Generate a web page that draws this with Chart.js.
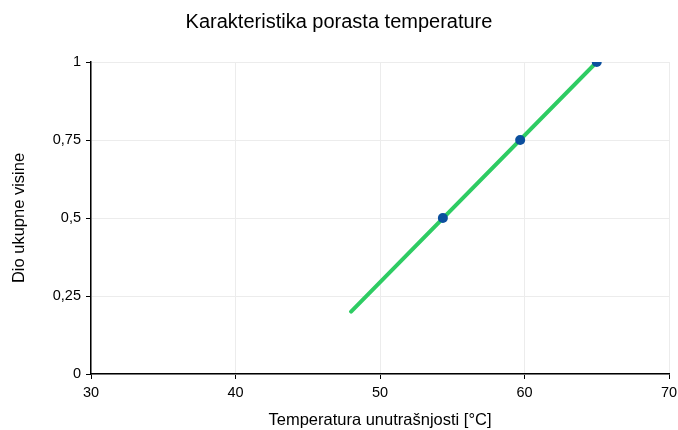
<!DOCTYPE html>
<html>
<head>
<meta charset="utf-8">
<script src="https://cdn.jsdelivr.net/npm/chart.js@4/dist/chart.umd.min.js"></script>
<style>
html,body{margin:0;padding:0;background:#fff;}
#wrap{width:678px;height:430px;}
</style>
</head>
<body>
<div id="wrap"><canvas id="c" width="678" height="430"></canvas></div>
<script>
const chartTitle = "Karakteristika porasta temperature";
const xTitle = "Temperatura unutrašnjosti [°C]";
const yTitle = "Dio ukupne visine";
const lineX = [48, 65];
const lineY = [0.2, 1];
const pointX = [54.35, 59.7, 65];
const pointY = [0.5, 0.75, 1];
const xMin = 30, xMax = 70, xStep = 10;
const yMin = 0, yMax = 1, yStep = 0.25;

const FONT = "'Liberation Sans', Arial, sans-serif";

new Chart(document.getElementById('c'), {
  type: 'scatter',
  data: {
    datasets: [
      {
        label: 'line',
        data: lineX.map((x, i) => ({x: x, y: lineY[i]})),
        showLine: true,
        borderColor: '#2ecc63',
        borderWidth: 4,
        pointRadius: 0,
        borderCapStyle: 'round',
        order: 2
      },
      {
        label: 'points',
        data: pointX.map((x, i) => ({x: x, y: pointY[i]})),
        showLine: false,
        backgroundColor: '#0b4f9e',
        borderColor: '#0b4f9e',
        pointRadius: 5,
        pointBorderWidth: 0,
        order: 1
      }
    ]
  },
  options: {
    responsive: false,
    animation: false,
    devicePixelRatio: 1,
    layout: {padding: {left: 0, right: 0, top: 0, bottom: 0}},
    plugins: {
      legend: {display: false},
      tooltip: {enabled: false},
      title: {
        display: true,
        text: chartTitle,
        color: '#000',
        font: {family: FONT, size: 20, weight: 'normal', lineHeight: 1.2},
        padding: {top: 10, bottom: 28}
      }
    },
    scales: {
      x: {
        type: 'linear',
        min: xMin, max: xMax,
        ticks: {stepSize: xStep, color: '#000', font: {family: FONT, size: 14.5}, padding: 5, maxRotation: 0},
        grid: {color: '#ececec', tickColor: '#000', tickLength: 5, lineWidth: 1},
        border: {color: '#000', width: 1.5},
        title: {display: true, text: xTitle, color: '#000', font: {family: FONT, size: 16.5, lineHeight: 1.2}, padding: {top: 0, bottom: 0}},
        afterFit: s => { s.height = 56; s.paddingRight = 9; }
      },
      y: {
        type: 'linear',
        min: yMin, max: yMax,
        ticks: {stepSize: yStep, color: '#000', font: {family: FONT, size: 14.5}, padding: 5,
          callback: v => String(v).replace('.', ',')},
        grid: {color: '#ececec', tickColor: '#000', tickLength: 5, lineWidth: 1},
        border: {color: '#000', width: 1.5},
        title: {display: true, text: yTitle, color: '#000', font: {family: FONT, size: 16.5, lineHeight: 1.2}, padding: {top: 10, bottom: 0}},
        afterFit: s => { s.width = 91; }
      }
    }
  }
});
</script>
</body>
</html>
